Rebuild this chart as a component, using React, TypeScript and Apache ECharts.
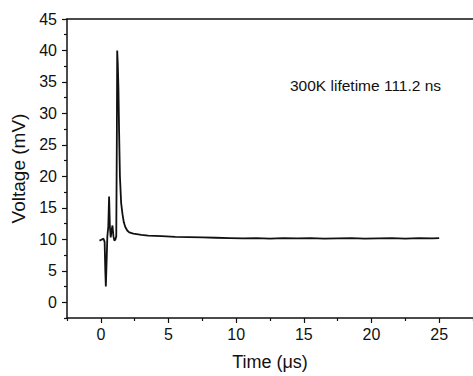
import React, { useEffect, useRef } from "react";
import * as echarts from "echarts";

const timeUs = [
  -0.1, 0.0, 0.1, 0.2, 0.28, 0.33, 0.37, 0.42, 0.48, 0.55, 0.61, 0.67, 0.73, 0.8, 0.86, 0.93, 1.0,
  1.08, 1.14, 1.18, 1.21, 1.25, 1.3, 1.35, 1.41, 1.5, 1.6, 1.7, 1.8, 1.95, 2.1, 2.4, 3.0, 3.5, 4.5,
  5.5, 6.5, 7.5, 8.5, 9.5, 10.5, 11.5, 12.5, 13.5, 14.5, 15.5, 16.5, 17.5, 18.5, 19.5, 20.5, 21.5,
  22.5, 23.5, 24.5, 25.0,
];
const voltageMv = [
  9.8, 9.9, 10.0, 10.1, 9.6, 5.0, 2.5, 6.0, 10.4, 12.0, 16.8, 12.0, 10.3, 11.5, 12.2, 10.5, 9.8,
  10.0, 10.5, 25.0, 40.0, 38.0, 34.0, 27.0, 20.0, 15.8, 14.0, 12.7, 12.0, 11.4, 11.1, 10.9, 10.7,
  10.6, 10.5, 10.4, 10.35, 10.3, 10.25, 10.2, 10.15, 10.2, 10.1, 10.2, 10.15, 10.2, 10.1, 10.15,
  10.2, 10.1, 10.15, 10.2, 10.1, 10.2, 10.15, 10.2,
];
const xMajorTicks = [0, 5, 10, 15, 20, 25];
const xMinorTicks = [-2.5, 2.5, 7.5, 12.5, 17.5, 22.5, 27.5];
const yMajorTicks = [0, 5, 10, 15, 20, 25, 30, 35, 40, 45];
const yMinorTicks = [-2.5, 2.5, 7.5, 12.5, 17.5, 22.5, 27.5, 32.5, 37.5, 42.5];
const annotation = "300K lifetime 111.2 ns";

const FONT = "'Liberation Sans', Arial, sans-serif";

export default function App() {
  const ref = useRef<HTMLDivElement>(null);
  useEffect(() => {
    if (!ref.current) return;
    const chart = echarts.init(ref.current, null, { renderer: "svg" });
    const axisLine = { show: true, onZero: false, lineStyle: { color: "#111", width: 1.5 } };
    const noLine = { show: false, onZero: false };
    chart.setOption({
      animation: false,
      backgroundColor: "#fff",
      grid: { left: 67, top: 19, right: -5.5, bottom: 52, containLabel: false },
      xAxis: [
        {
          type: "value",
          min: -2.5,
          max: 27.5,
          interval: 2.5,
          position: "bottom",
          name: "Time (\u03bcs)",
          nameLocation: "middle",
          nameGap: 35,
          nameTextStyle: { fontFamily: FONT, fontSize: 18, color: "#111" },
          axisLine,
          axisTick: { show: true, customValues: xMajorTicks, length: 5, lineStyle: { color: "#111", width: 1.2 } },
          axisLabel: { customValues: xMajorTicks, margin: 8, fontFamily: FONT, fontSize: 16, color: "#111" },
          splitLine: { show: false },
        },
        {
          type: "value",
          min: -2.5,
          max: 27.5,
          interval: 2.5,
          position: "bottom",
          axisLine: noLine,
          axisTick: { show: true, customValues: xMinorTicks, length: 3, lineStyle: { color: "#111", width: 1.2 } },
          axisLabel: { show: false },
          splitLine: { show: false },
        },
        {
          type: "value",
          min: -2.5,
          max: 27.5,
          position: "top",
          axisLine,
          axisTick: { show: false },
          axisLabel: { show: false },
          splitLine: { show: false },
        },
      ],
      yAxis: [
        {
          type: "value",
          min: -2.5,
          max: 45,
          interval: 2.5,
          position: "left",
          name: "Voltage (mV)",
          nameLocation: "middle",
          nameGap: 35,
          nameTextStyle: { fontFamily: FONT, fontSize: 19, color: "#111" },
          axisLine,
          axisTick: { show: true, customValues: yMajorTicks, length: 5, lineStyle: { color: "#111", width: 1.2 } },
          axisLabel: { customValues: yMajorTicks, margin: 10, fontFamily: FONT, fontSize: 16, color: "#111" },
          splitLine: { show: false },
        },
        {
          type: "value",
          min: -2.5,
          max: 45,
          interval: 2.5,
          position: "left",
          axisLine: noLine,
          axisTick: { show: true, customValues: yMinorTicks, length: 3, lineStyle: { color: "#111", width: 1.2 } },
          axisLabel: { show: false },
          splitLine: { show: false },
        },
      ],
      graphic: [
        {
          type: "text",
          x: 290,
          y: 85,
          style: {
            text: annotation,
            fontFamily: FONT,
            fontSize: 15.5,
            fill: "#111",
            verticalAlign: "middle",
          },
        },
      ],
      series: [
        {
          type: "line",
          data: timeUs.map((t, i) => [t, voltageMv[i]]),
          showSymbol: false,
          smooth: false,
          lineStyle: { color: "#111", width: 1.8 },
        },
      ],
    });
    return () => chart.dispose();
  }, []);
  return <div ref={ref} style={{ position: "absolute", left: 0, top: 0, width: 473, height: 376 }} />;
}
